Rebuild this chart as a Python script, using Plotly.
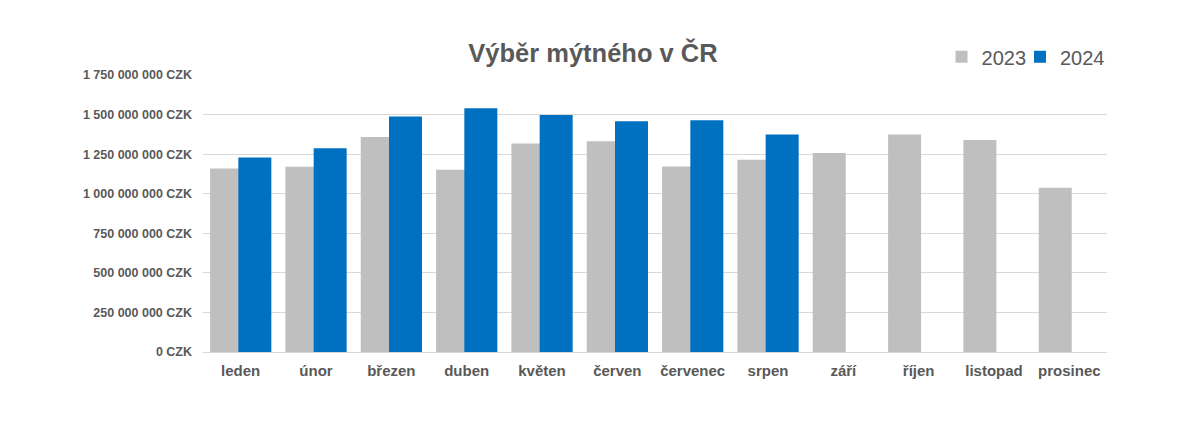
import plotly.graph_objects as go

months = ["leden", "únor", "březen", "duben", "květen", "červen",
          "červenec", "srpen", "září", "říjen", "listopad", "prosinec"]
vals_2023 = [1160e6, 1170e6, 1359e6, 1151e6, 1317e6, 1332e6,
             1172e6, 1214e6, 1258e6, 1374e6, 1340e6, 1038e6]
vals_2024 = [1229e6, 1288e6, 1488e6, 1540e6, 1498e6, 1458e6,
             1464e6, 1374e6, None, None, None, None]
ytick_vals = [0, 250e6, 500e6, 750e6, 1000e6, 1250e6, 1500e6, 1750e6]
ytick_text = ["0 CZK", "250 000 000 CZK", "500 000 000 CZK", "750 000 000 CZK",
              "1 000 000 000 CZK", "1 250 000 000 CZK", "1 500 000 000 CZK",
              "1 750 000 000 CZK"]

FONT = "Liberation Sans, Arial, sans-serif"
TXT = "#595959"
OFF = 8  # page body margin offset

fig = go.Figure()
fig.add_trace(go.Bar(x=months, y=vals_2023, name="2023", marker_color="#BFBFBF",
                     width=0.438, offset=-0.406, marker_line_width=0,
                     showlegend=True, legend="legend"))
fig.add_trace(go.Bar(x=months, y=vals_2024, name="2024", marker_color="#0070C0",
                     width=0.438, offset=-0.031, marker_line_width=0,
                     showlegend=True, legend="legend2"))

leg = dict(orientation="h", xanchor="right", y=1.066, yanchor="middle",
           font=dict(family=FONT, size=20, color=TXT), itemwidth=30,
           bgcolor="rgba(0,0,0,0)", visible=True)

fig.update_layout(
    width=1200, height=439,
    barmode="overlay",
    showlegend=True,
    plot_bgcolor="white", paper_bgcolor="white",
    margin=dict(l=203 - OFF, r=93 + OFF, t=75 - OFF, b=87 + OFF),
    title=dict(text="<b>Výběr mýtného v ČR</b>", x=(593 - OFF) / 1200, xanchor="center",
               y=1 - (53 - OFF) / 439, yanchor="middle",
               font=dict(family=FONT, size=25.5, color=TXT)),
    legend=dict(leg, x=0.9165),
    legend2=dict(leg, x=1.0033),
    font=dict(family=FONT, color=TXT),
    xaxis=dict(showgrid=False, showline=True, linecolor="#D9D9D9", linewidth=1,
               ticks="", tickfont=dict(family=FONT, size=15, color=TXT),
               tickprefix="<b>", ticksuffix="</b>",
               ticklabelstandoff=5, fixedrange=True),
    yaxis=dict(range=[0, 1750e6], tickvals=ytick_vals,
               ticktext=["<b>" + t + "</b>" for t in ytick_text],
               showgrid=True, gridcolor="#D9D9D9", gridwidth=1,
               zeroline=False, showline=False, ticks="",
               tickfont=dict(family=FONT, size=12.5, color=TXT),
               ticklabelstandoff=10, fixedrange=True),
)

fig.write_html("out.html")
